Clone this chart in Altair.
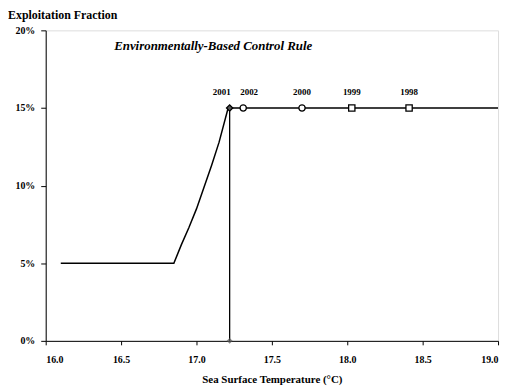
import altair as alt
import pandas as pd

# Control rule curve
rule_sst = [16.1, 16.85, 16.9, 16.95, 17.0, 17.05, 17.1, 17.15, 17.21, 19.0]
rule_ef = [0.05, 0.05, 0.062, 0.073, 0.085, 0.099, 0.113, 0.128, 0.15, 0.15]

# Yearly observations
years = ["2001", "2002", "2000", "1999", "1998"]
year_sst = [17.22, 17.31, 17.70, 18.03, 18.41]
year_ef = [0.15, 0.15, 0.15, 0.15, 0.15]
year_shape = ["diamond", "circle", "circle", "square", "square"]
year_fill = ["#555555", "white", "white", "white", "white"]

# Vertical reference line
vline_sst = [17.22]
vline_lo = [0.0]
vline_hi = [0.15]

x_ticks = [16.0, 16.5, 17.0, 17.5, 18.0, 18.5, 19.0]
y_ticks = [0.0, 0.05, 0.10, 0.15, 0.20]

FONT = "Liberation Serif"

rule_df = pd.DataFrame({"sst": rule_sst, "ef": rule_ef, "order": range(len(rule_sst))})
year_df = pd.DataFrame({"sst": year_sst, "ef": year_ef, "year": years,
                        "shape": year_shape, "fill": year_fill})
vdf = pd.DataFrame({"sst": vline_sst, "lo": vline_lo, "hi": vline_hi})

xs = alt.Scale(domain=[16.0, 19.0], nice=False, zero=False)
ys = alt.Scale(domain=[0.0, 0.20], nice=False)

xax = alt.Axis(values=x_ticks, format=".1f", title="Sea Surface Temperature (°C)",
               grid=False, labelFont=FONT, labelFontWeight="bold", labelFontSize=10,
               titleFont=FONT, titleFontWeight="bold", titleFontSize=11, titlePadding=9,
               tickSize=4, domainColor="black", tickColor="black", labelColor="black",
               titleColor="black", labelPadding=10)
yax = alt.Axis(values=y_ticks, format=".0%", title=None, grid=False,
               labelFont=FONT, labelFontWeight="bold", labelFontSize=10,
               tickSize=5, domainColor="black", tickColor="black", labelColor="black",
               labelPadding=6)

base_x = alt.X("sst:Q", scale=xs, axis=xax)
base_y = alt.Y("ef:Q", scale=ys, axis=yax)

line = alt.Chart(rule_df).mark_line(color="black", strokeWidth=1.5).encode(
    x=base_x, y=base_y, order="order:Q")

vline = alt.Chart(vdf).mark_rule(color="black", strokeWidth=1.3).encode(
    x=alt.X("sst:Q", scale=xs), y=alt.Y("lo:Q", scale=ys), y2="hi:Q")

vmark = alt.Chart(vdf).mark_point(shape="diamond", size=35, color="#555555",
                                  filled=True).encode(
    x=alt.X("sst:Q", scale=xs), y=alt.Y("lo:Q", scale=ys))

pts = alt.Chart(year_df).mark_point(size=40, stroke="black", strokeWidth=1.3,
                                    opacity=1).encode(
    x=alt.X("sst:Q", scale=xs), y=alt.Y("ef:Q", scale=ys),
    shape=alt.Shape("shape:N", scale=None, legend=None),
    fill=alt.Fill("fill:N", scale=None, legend=None))

def year_text(sel, dx):
    return alt.Chart(year_df).transform_filter(sel).mark_text(
        dy=-16, dx=dx, font=FONT, fontWeight="bold", fontSize=9, color="black").encode(
        x=alt.X("sst:Q", scale=xs), y=alt.Y("ef:Q", scale=ys), text="year:N")

lab_2001 = year_text(alt.datum.year == "2001", -8)
lab_2002 = year_text(alt.datum.year == "2002", 6)
lab_rest = year_text((alt.datum.year != "2001") & (alt.datum.year != "2002"), 0)

note = alt.Chart(pd.DataFrame({"t": ["Environmentally-Based Control Rule"]})).mark_text(
    font=FONT, fontStyle="italic", fontWeight="bold", fontSize=13, align="left",
    baseline="middle", color="black").encode(
    x=alt.value(69), y=alt.value(16), text="t:N")

ytitle = alt.Chart(pd.DataFrame({"t": ["Exploitation Fraction"]})).mark_text(
    font=FONT, fontWeight="bold", fontSize=12, align="left",
    baseline="top", color="black").encode(
    x=alt.value(-38), y=alt.value(-20), text="t:N")

chart = alt.layer(line, vline, vmark, pts, lab_2001, lab_2002, lab_rest,
                  note, ytitle).properties(
    width=456, height=313,
    autosize=alt.AutoSizeParams(type="none"),
    padding={"left": 38, "top": 21, "right": 5, "bottom": 48},
).configure_view(stroke="black", strokeWidth=1.2).configure(background="white")

chart.save("out.html", embed_options={"renderer": "svg", "actions": False})
